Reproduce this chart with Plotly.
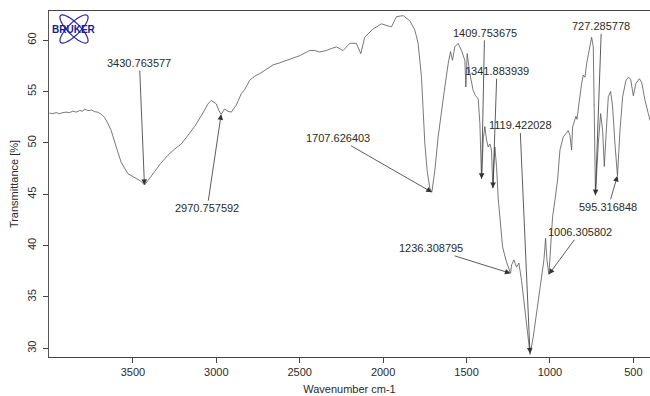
import numpy as np
import plotly.graph_objects as go

# ---- data ----
wavenumber = [4000, 3980, 3960, 3940, 3920, 3900, 3880, 3860, 3840, 3820, 3800, 3790, 3770,
              3748, 3730, 3712, 3690, 3670, 3650, 3630, 3600, 3570, 3530, 3500, 3480, 3454,
              3430, 3400, 3370, 3334, 3290, 3250, 3210, 3172, 3130, 3088, 3050, 3030, 3000,
              2986, 2971, 2950, 2932, 2910, 2880, 2850, 2830, 2800, 2770, 2740, 2700, 2660,
              2620, 2580, 2540, 2500, 2440, 2410, 2380, 2340, 2310, 2280, 2240, 2200, 2160,
              2134, 2110, 2060, 2010, 1980, 1950, 1920, 1880, 1840, 1810, 1790, 1770, 1760,
              1750, 1736, 1720, 1708, 1690, 1670, 1650, 1630, 1610, 1596, 1584, 1570, 1550,
              1530, 1510, 1504, 1496, 1480, 1460, 1446, 1430, 1420, 1410, 1399, 1390, 1380,
              1370, 1360, 1350, 1342, 1330, 1320, 1310, 1300, 1284, 1264, 1244, 1236, 1230,
              1216, 1200, 1186, 1170, 1150, 1136, 1119, 1100, 1080, 1060, 1036, 1026, 1018,
              1006, 1000, 984, 970, 954, 940, 920, 904, 890, 880, 870, 864, 850, 844, 838,
              824, 810, 800, 790, 780, 760, 750, 740, 733, 727, 710, 696, 684, 674, 664,
              650, 636, 624, 610, 595, 580, 564, 544, 530, 516, 500, 484, 464, 450, 430,
              410, 400]
transmittance = [52.9, 52.85, 52.95, 52.85, 52.95, 53.0, 52.95, 53.1, 53.0, 53.15, 53.1, 53.3, 53.15,
                 53.2, 53.05, 53.0, 52.8, 52.5, 51.9, 51.2, 49.6, 48.1, 47.0, 46.7, 46.5, 46.3,
                 45.9, 46.5, 47.2, 48.0, 48.8, 49.4, 49.9, 50.7, 51.6, 52.7, 53.8, 54.15, 53.8,
                 53.2, 52.8, 53.3, 53.1, 53.0, 53.7, 54.8, 55.2, 56.1, 56.5, 56.75, 57.2, 57.6,
                 57.8, 58.05, 58.3, 58.5, 59.0, 59.0, 58.85, 59.0, 59.2, 59.35, 59.0, 59.7, 59.7,
                 58.7, 60.3, 61.1, 61.6, 61.45, 61.3, 62.3, 62.4, 61.9, 61.0, 59.7, 56.4, 53.2,
                 50.0, 47.3, 45.6, 45.2, 47.3, 50.6, 53.2, 55.45, 57.7, 58.9, 58.05, 59.35, 59.7,
                 59.0, 58.05, 55.45, 58.7, 56.75, 55.1, 54.6, 54.3, 51.9, 46.5, 50.5, 51.6, 50.3,
                 49.6, 49.9, 49.3, 45.6, 49.6, 47.7, 44.6, 42.5, 39.9, 38.6, 37.7, 37.3, 38.1,
                 38.6, 37.9, 38.3, 36.6, 34.0, 31.75, 29.4, 31.1, 33.4, 35.6, 38.6, 40.7, 38.6,
                 37.2, 39.0, 42.8, 44.4, 46.4, 49.3, 50.6, 50.9, 51.2, 50.75, 49.3, 51.55, 52.5,
                 52.6, 52.3, 54.15, 55.8, 56.6, 56.4, 57.7, 59.7, 60.3, 59.35, 53.0, 44.9, 49.9,
                 52.85, 51.2, 47.7, 50.6, 54.5, 55.0, 53.5, 49.9, 46.8, 51.2, 54.5, 56.1, 56.4,
                 56.2, 54.6, 55.8, 56.25, 55.9, 54.15, 52.85, 52.2]

peak_wn = [3430.763577, 2970.757592, 1707.626403, 1409.753675, 1341.883939,
           1119.422028, 1236.308795, 1006.305802, 727.285778, 595.316848]
peak_T = [45.9, 52.8, 45.2, 46.5, 45.6, 29.5, 37.3, 37.2, 44.9, 46.8]

x_ticks = [3500, 3000, 2500, 2000, 1500, 1000, 500]
y_ticks = [30, 35, 40, 45, 50, 55, 60]

# label offsets in pixels (tail relative to arrow head)
label_offsets = [(-5, -122), (-14, 94), (-94, -54), (3, -146), (4, -117),
                 (-10, -228), (-80, -25), (31, -42), (6, -169), (-9, 31)]

FONT = "Liberation Sans, Arial, sans-serif"
TXT = "#2a2a2a"

fig = go.Figure()
fig.add_trace(go.Scatter(x=wavenumber, y=transmittance, mode="lines",
                         line=dict(color="#555555", width=0.8), hoverinfo="skip",
                         showlegend=False))

for wn, t, (ax, ay) in zip(peak_wn, peak_T, label_offsets):
    fig.add_annotation(x=wn, y=t, text=f"{wn:.6f}", showarrow=True,
                       ax=ax, ay=ay, arrowhead=2, arrowsize=1.4, arrowwidth=0.8,
                       arrowcolor="#333333", standoff=0, startstandoff=0,
                       font=dict(family=FONT, size=11, color=TXT))

# Bruker logo (decoration)
W, H = 601, 346
cx, cy = 25, 18
for ang in (45, -45):
    th = np.linspace(0, 2 * np.pi, 60)
    a, b = 19, 6
    r = np.deg2rad(ang)
    px = cx + a * np.cos(th) * np.cos(r) - b * np.sin(th) * np.sin(r)
    py = cy + a * np.cos(th) * np.sin(r) + b * np.sin(th) * np.cos(r)
    path = "M " + " L ".join(f"{u / W:.5f},{1 - v / H:.5f}" for u, v in zip(px, py)) + " Z"
    fig.add_shape(type="path", path=path, xref="paper", yref="paper",
                  line=dict(color="#2a2aa0", width=1.2))
fig.add_annotation(x=cx / W, y=1 - cy / H, xref="paper", yref="paper", text="<b>BRUKER</b>",
                   xanchor="center", yanchor="middle", showarrow=False,
                   font=dict(family=FONT, size=10, color="#1c1c96"))

fig.update_layout(
    width=650, height=396,
    margin=dict(l=49, r=0, t=11, b=39, autoexpand=False),
    paper_bgcolor="white", plot_bgcolor="white",
    font=dict(family=FONT, size=11, color=TXT),
    xaxis=dict(range=[4003, 400], tickvals=x_ticks, ticks="outside", ticklen=5,
               tickcolor="#444", showgrid=False, zeroline=False, showline=True,
               linecolor="#444", linewidth=1, mirror=True, automargin=False,
               title=dict(text="Wavenumber cm-1", standoff=8, font=dict(size=11))),
    yaxis=dict(range=[29.15, 62.85], tickvals=y_ticks, ticks="outside", ticklen=5,
               tickcolor="#444", tickangle=-90, showgrid=False, zeroline=False,
               showline=True, linecolor="#555", linewidth=1.2, mirror=True,
               automargin=False, ticklabelstandoff=3,
               title=dict(text="Transmittance [%]", standoff=4, font=dict(size=11))),
)

fig.write_html("out.html", config={"displayModeBar": False},
               post_script="document.body.style.margin='0';document.body.style.padding='0';")
